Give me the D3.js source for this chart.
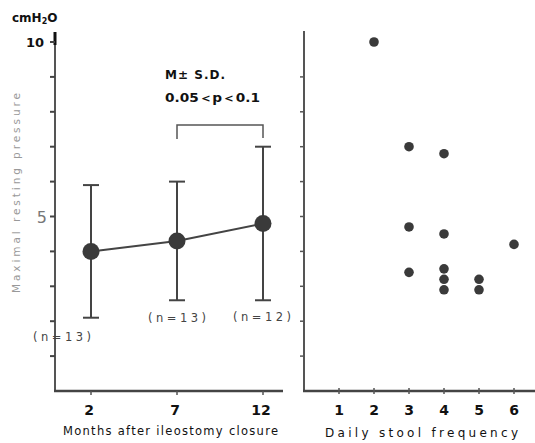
<!DOCTYPE html>
<html>
<head>
<meta charset="utf-8">
<script src="https://cdn.jsdelivr.net/npm/d3@7"></script>
<style>
  html, body { margin: 0; padding: 0; background: #fff; }
  svg { display: block; }
  text { font-family: "DejaVu Sans", "Liberation Sans", sans-serif; }
</style>
</head>
<body>
<svg id="chart" width="535" height="443"></svg>
<script>
// Left panel: mean ± SD of resting pressure after closure
const months = [2, 7, 12];
const meanPressure = [4.0, 4.3, 4.8];
const sdPressure = [1.9, 1.7, 2.2];
const groupN = [13, 13, 12];

// Right panel: individual pressure vs stool frequency
const stoolFreq = [2, 3, 4, 3, 4, 6, 3, 4, 4, 4, 5, 5];
const stoolPressure = [10.0, 7.0, 6.8, 4.7, 4.5, 4.2, 3.4, 3.5, 3.2, 2.9, 3.2, 2.9];

const monthTicks = [2, 7, 12];
const freqTicks = [1, 2, 3, 4, 5, 6];
const pressureTicks = d3.range(0, 11);

const svg = d3.select("#chart");

const y = d3.scaleLinear().domain([0, 10]).range([391, 42]);
const xL = d3.scaleLinear().domain([2, 12]).range([91, 263]);
const xR = d3.scaleLinear().domain([0, 6]).range([304, 514]);

// ---------- left panel axes ----------
const leftX0 = 55;
svg.append("line").attr("x1", leftX0).attr("x2", leftX0)
  .attr("y1", y(10) - 8).attr("y2", y(0) + 1)
  .attr("stroke", "#555").attr("stroke-width", 2);
svg.append("line").attr("x1", leftX0).attr("x2", leftX0)
  .attr("y1", y(10) - 10).attr("y2", y(10) + 3)
  .attr("stroke", "#111").attr("stroke-width", 3);
svg.append("line").attr("x1", leftX0 - 1).attr("x2", 283)
  .attr("y1", y(0)).attr("y2", y(0))
  .attr("stroke", "#444").attr("stroke-width", 2.5);

svg.append("g").selectAll("line").data(pressureTicks.filter(d => d > 0)).join("line")
  .attr("x1", leftX0 - 5).attr("x2", leftX0)
  .attr("y1", d => y(d)).attr("y2", d => y(d))
  .attr("stroke", "#444").attr("stroke-width", 2);

svg.append("g").selectAll("line").data(monthTicks).join("line")
  .attr("x1", d => xL(d)).attr("x2", d => xL(d))
  .attr("y1", y(0)).attr("y2", y(0) + 4)
  .attr("stroke", "#555").attr("stroke-width", 1.5);

svg.append("g").selectAll("text").data(monthTicks).join("text")
  .attr("x", d => xL(d) - 2).attr("y", 415)
  .attr("text-anchor", "middle")
  .attr("font-size", 14).attr("font-weight", "bold").attr("fill", "#111")
  .text(d => d);

svg.append("text").attr("x", 63).attr("y", 435)
  .attr("font-size", 11.5).attr("fill", "#111")
  .attr("textLength", 215).attr("lengthAdjust", "spacing")
  .text("Months after ileostomy closure");

// y-axis labels
svg.append("text").attr("x", 12).attr("y", 22)
  .attr("font-size", 12).attr("font-weight", "bold").attr("fill", "#111")
  .call(t => {
    t.append("tspan").text("cmH");
    t.append("tspan").attr("font-size", 8).attr("dy", 2).text("2");
    t.append("tspan").attr("dy", -2).text("O");
  });
svg.append("text").attr("x", 44).attr("y", y(10) + 5)
  .attr("text-anchor", "end")
  .attr("font-size", 13).attr("font-weight", "bold").attr("fill", "#111")
  .text("10");
svg.append("text").attr("x", 47).attr("y", y(5) + 6)
  .attr("text-anchor", "end")
  .attr("font-size", 16).attr("fill", "#777")
  .text("5");

svg.append("text")
  .attr("transform", "translate(20,193) rotate(-90)")
  .attr("text-anchor", "middle")
  .attr("font-size", 10.5).attr("fill", "#999")
  .attr("textLength", 200).attr("lengthAdjust", "spacing")
  .text("Maximal resting pressure");

// ---------- left panel marks ----------
const errG = svg.append("g").attr("stroke", "#444").attr("stroke-width", 2);
months.forEach((m, i) => {
  const hi = meanPressure[i] + sdPressure[i];
  const lo = meanPressure[i] - sdPressure[i];
  errG.append("line").attr("x1", xL(m)).attr("x2", xL(m))
    .attr("y1", y(hi)).attr("y2", y(lo));
  errG.append("line").attr("x1", xL(m) - 8).attr("x2", xL(m) + 8)
    .attr("y1", y(hi)).attr("y2", y(hi));
  errG.append("line").attr("x1", xL(m) - 8).attr("x2", xL(m) + 8)
    .attr("y1", y(lo)).attr("y2", y(lo));
});

svg.append("path")
  .datum(months.map((m, i) => [m, meanPressure[i]]))
  .attr("fill", "none").attr("stroke", "#444").attr("stroke-width", 2)
  .attr("d", d3.line().x(d => xL(d[0])).y(d => y(d[1])));

svg.append("g").selectAll("circle").data(months).join("circle")
  .attr("cx", d => xL(d)).attr("cy", (d, i) => y(meanPressure[i]))
  .attr("r", 8.5).attr("fill", "#3a3a3a");

// group sizes under the lower whiskers
const nLabelPos = [[62, 341], [177, 322], [262, 321]];
svg.append("g").selectAll("text").data(groupN).join("text")
  .attr("x", (d, i) => nLabelPos[i][0]).attr("y", (d, i) => nLabelPos[i][1])
  .attr("text-anchor", "middle")
  .attr("font-size", 11.5).attr("fill", "#444")
  .attr("textLength", 58).attr("lengthAdjust", "spacing")
  .text(d => `(n=${d})`);

// significance bracket between 7 and 12 months
svg.append("path")
  .attr("fill", "none").attr("stroke", "#555").attr("stroke-width", 1.5)
  .attr("d", `M${xL(7)},139 V125 H${xL(12)} V138`);

svg.append("text").attr("x", 165).attr("y", 79)
  .attr("font-size", 12).attr("font-weight", "bold").attr("fill", "#111")
  .attr("textLength", 60).attr("lengthAdjust", "spacing")
  .text("M± S.D.");
svg.append("text").attr("x", 165).attr("y", 102)
  .attr("font-size", 12).attr("font-weight", "bold").attr("fill", "#111")
  .attr("textLength", 95).attr("lengthAdjust", "spacingAndGlyphs")
  .text("0.05＜p＜0.1");

// ---------- right panel ----------
const rightX0 = 304;
svg.append("line").attr("x1", rightX0).attr("x2", rightX0)
  .attr("y1", 31).attr("y2", y(0) + 1)
  .attr("stroke", "#555").attr("stroke-width", 2);
svg.append("line").attr("x1", rightX0 - 1).attr("x2", 535)
  .attr("y1", y(0)).attr("y2", y(0))
  .attr("stroke", "#444").attr("stroke-width", 2.5);

svg.append("g").selectAll("line").data(pressureTicks.filter(d => d > 0 && d < 10)).join("line")
  .attr("x1", rightX0 - 4).attr("x2", rightX0)
  .attr("y1", d => y(d)).attr("y2", d => y(d))
  .attr("stroke", "#555").attr("stroke-width", 1.5);

svg.append("g").selectAll("line").data(freqTicks).join("line")
  .attr("x1", d => xR(d)).attr("x2", d => xR(d))
  .attr("y1", y(0) - 3).attr("y2", y(0) + 3)
  .attr("stroke", "#555").attr("stroke-width", 1.5);

svg.append("g").selectAll("text").data(freqTicks).join("text")
  .attr("x", d => xR(d)).attr("y", 415)
  .attr("text-anchor", "middle")
  .attr("font-size", 14).attr("font-weight", "bold").attr("fill", "#111")
  .text(d => d);

svg.append("text").attr("x", 325).attr("y", 437)
  .attr("font-size", 12).attr("fill", "#111")
  .attr("textLength", 193).attr("lengthAdjust", "spacing")
  .text("Daily stool frequency");

svg.append("g").selectAll("circle").data(stoolFreq).join("circle")
  .attr("cx", d => xR(d)).attr("cy", (d, i) => y(stoolPressure[i]))
  .attr("r", 4.8).attr("fill", "#3a3a3a");
</script>
</body>
</html>
